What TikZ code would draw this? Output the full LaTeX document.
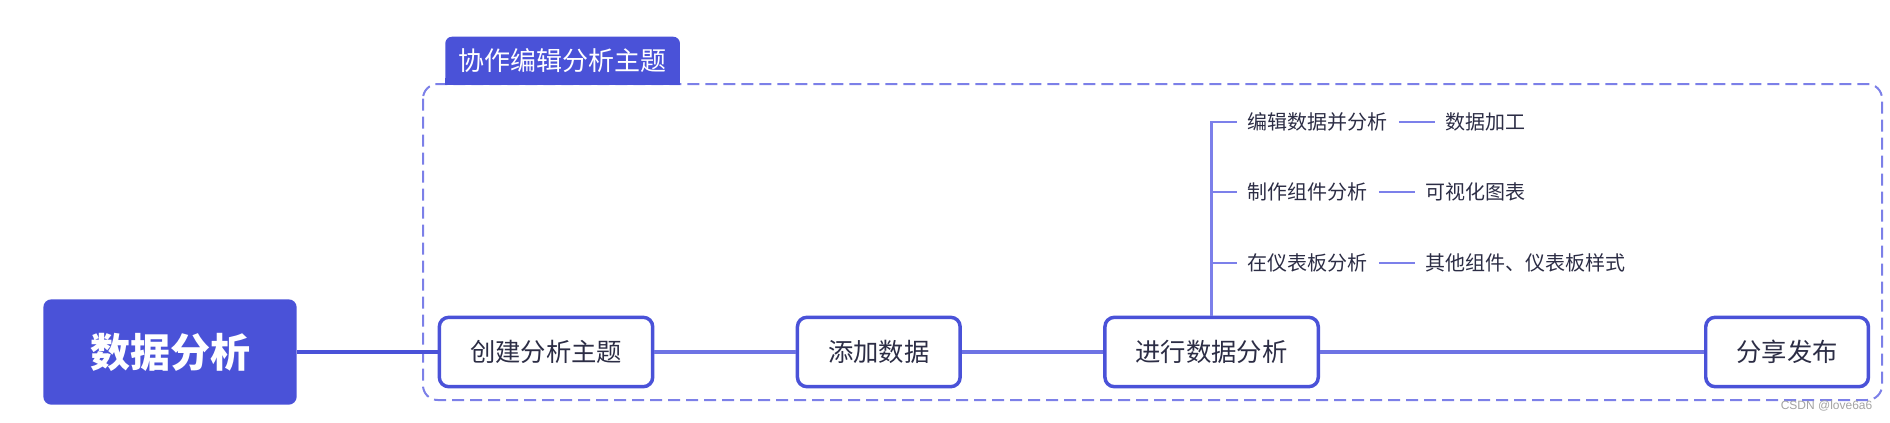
\documentclass[tikz,border=0pt]{standalone}
\usepackage{fontspec}
\usepackage{xcolor}
\usepackage{tikz}
\newfontfamily\cjk{Noto Sans CJK SC}
\setsansfont{Liberation Sans}
\definecolor{indigo}{HTML}{4A52D8}
\definecolor{lilac}{HTML}{6E73E4}
\definecolor{twigc}{HTML}{7C80EA}
\definecolor{dashc}{HTML}{7C80E8}
\definecolor{ink}{HTML}{2C2D45}
\definecolor{muted}{HTML}{A3A3A3}
\usetikzlibrary{arrows.meta,positioning}

\begin{document}
\begin{tikzpicture}[
  x=0.75pt,y=-0.75pt,
  node distance=27pt,
  root/.style={rectangle,rounded corners=6pt,fill=indigo,minimum width=190pt,minimum height=79pt,
               font=\cjk\bfseries\fontsize{30}{30}\selectfont,text=white},
  box/.style={rectangle,rounded corners=7pt,draw=indigo,line width=2.6pt,fill=white,
              minimum height=52pt,inner xsep=23pt,font=\cjk\fontsize{19}{19}\selectfont,text=ink},
  sub/.style={inner xsep=8pt,font=\cjk\fontsize{15}{15}\selectfont,text=ink},
  tab/.style={rounded corners=5pt,fill=indigo,minimum height=36pt,inner xsep=10pt,
              font=\cjk\fontsize{19.5}{19.5}\selectfont,text=white},
  frame/.style={draw=dashc,line width=1.5pt,rounded corners=11pt,dash pattern=on 9pt off 4.5pt},
  trunk/.style={color=indigo,line width=2.3pt},
  link/.style={color=lilac,line width=2.3pt},
  twig/.style={color=twigc,line width=1.9pt}]
  \useasboundingbox (0,0) rectangle (1890,422);
  % group frame
  \draw[frame] (423,84) rectangle (1882,400);
  \node[tab,anchor=south west] (tab) at (445,85) {协作编辑分析主题};
  \fill[indigo] (tab.south west) rectangle ([yshift=5pt]tab.south east);
  % main flow
  \node[root] (root) at (170,352) {数据分析};
  \node[box] (n1) at (546,352) {创建分析主题};
  \node[box,right=106pt of n1] (n2) {添加数据};
  \node[box,right=106pt of n2] (n3) {进行数据分析};
  \node[box,right=288pt of n3] (n4) {分享发布};
  \draw[trunk](root)--(n1);
  \draw[link](n1)--(n2);\draw[link](n2)--(n3);\draw[link](n3)--(n4);
  % branches
  \node[sub,anchor=west] (s1) at (1237,122) {编辑数据并分析};
  \node[sub,anchor=west] (s2) at (1237,192) {制作组件分析};
  \node[sub,anchor=west] (s3) at (1237,263) {在仪表板分析};
  \node[sub,right=of s1] (t1) {数据加工};
  \node[sub,right=of s2] (t2) {可视化图表};
  \node[sub,right=of s3] (t3) {其他组件、仪表板样式};
  \draw[twig](n3.north)|-(s1);\draw[twig](n3.north)|-(s2);\draw[twig](n3.north)|-(s3);
  \draw[twig](s1)--(t1);\draw[twig](s2)--(t2);\draw[twig](s3)--(t3);
  \node[anchor=east,font=\sffamily\fontsize{9}{9}\selectfont,text=muted] (mark) at (1877,406) {CSDN @love6a6};
\end{tikzpicture}
\end{document}
